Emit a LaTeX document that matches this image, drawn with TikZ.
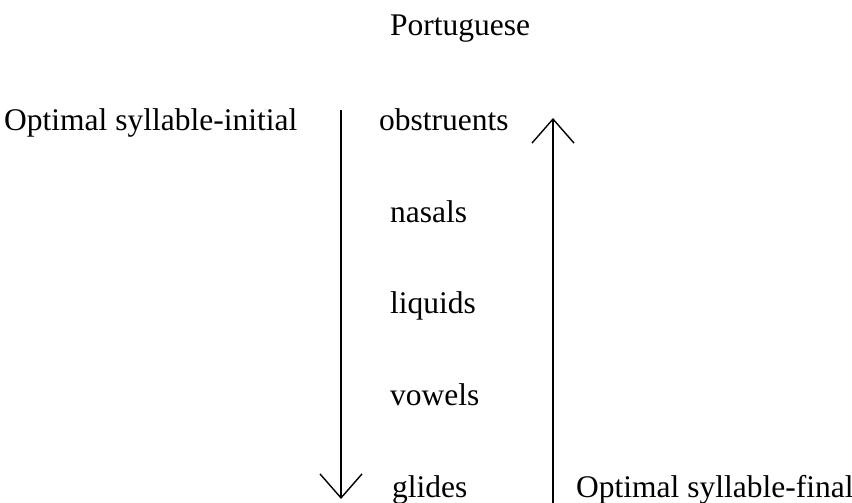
\documentclass[tikz,border=0pt]{standalone}
\usepackage{fontspec}
\setmainfont{Liberation Serif}
\usetikzlibrary{arrows.meta}
\begin{document}
\begin{tikzpicture}[x=1pt,y=-1pt,
  label/.style={anchor=base west,inner sep=0pt,font=\fontsize{31.5}{36}\selectfont},
  scalearrow/.style={line width=1.4pt,-{Straight Barb[length=24pt,width=42pt]}}]
  \useasboundingbox (0,0) rectangle (852,503);
  % heading
  \node[label] (title) at (390,36) {Portuguese};
  % side labels
  \node[label] (init) at (4,130) {Optimal syllable-initial};
  \node[label] (fin) at (576,497) {Optimal syllable-final};
  % sonority classes
  \node[label] (obs) at (379,130) {obstruents};
  \node[label] (nas) at (390,222) {nasals};
  \node[label] (liq) at (390,313) {liquids};
  \node[label] (vow) at (390,405) {vowels};
  \node[label] (gli) at (392,497) {glides};
  % scale arrows
  \coordinate (dtop) at (341,110);
  \coordinate (dbot) at (341,499);
  \coordinate (ubot) at (553,503);
  \coordinate (utop) at (553,118);
  \draw[scalearrow] (dtop) -- (dbot);
  \draw[scalearrow] (ubot) -- (utop);
\end{tikzpicture}
\end{document}
